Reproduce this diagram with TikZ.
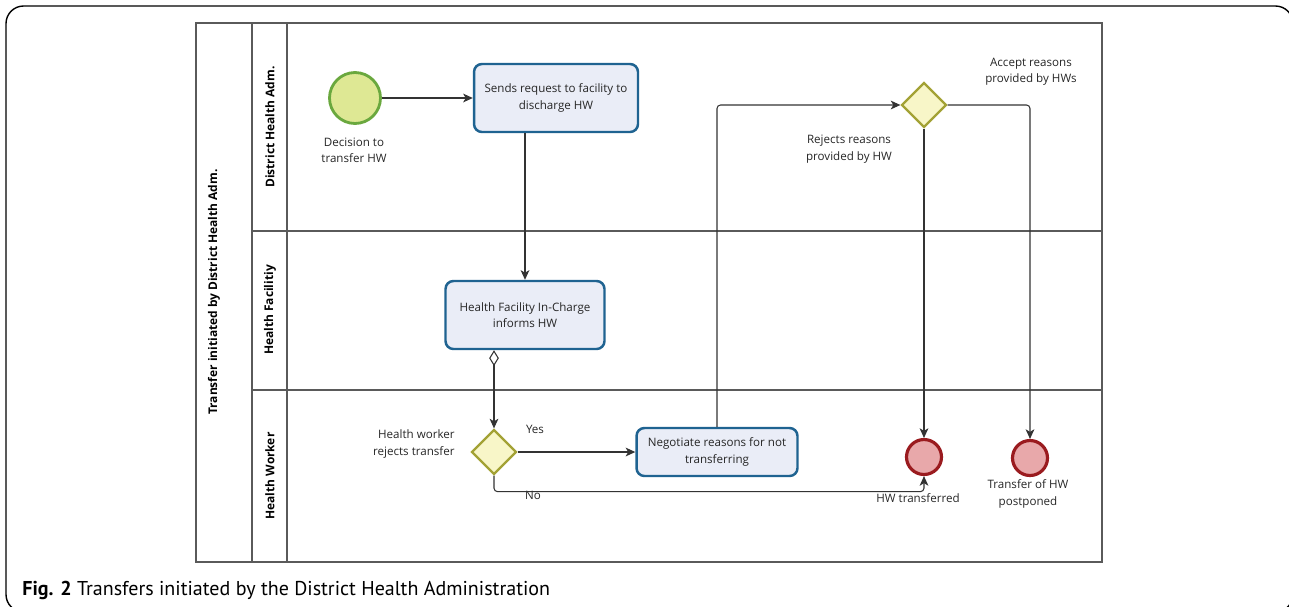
\documentclass[tikz,border=0pt]{standalone}
\usepackage{fontspec}
\setmainfont{Open Sans}
\newfontfamily\capfont{PT Sans}
\usetikzlibrary{shapes.geometric,arrows.meta,positioning}
\definecolor{startfill}{HTML}{DEE894}
\definecolor{startline}{HTML}{6AA83E}
\definecolor{taskfill}{HTML}{EAEDF7}
\definecolor{taskline}{HTML}{1F6391}
\definecolor{gatefill}{HTML}{F8F6C8}
\definecolor{gateline}{HTML}{A3A235}
\definecolor{endfill}{HTML}{E8A8AA}
\definecolor{endline}{HTML}{9A1B1F}
\definecolor{laneline}{HTML}{5A5A5A}
\definecolor{flowline}{HTML}{333333}
\tikzset{
  txt/.style={font=\fontsize{6.6}{9.3}\selectfont, text=black!85, align=center, inner sep=0pt},
  lanetxt/.style={font=\fontsize{6.8}{8}\selectfont\bfseries, rotate=90, inner sep=0pt},
  task/.style={draw=taskline, fill=taskfill, line width=1.4pt, rounded corners=4.5pt, txt},
  startev/.style={circle, draw=startline, fill=startfill, line width=1.6pt, minimum size=1.02cm, inner sep=0pt},
  endev/.style={circle, draw=endline, fill=endfill, line width=1.8pt, minimum size=0.7cm, inner sep=0pt},
  gate/.style={diamond, draw=gateline, fill=gatefill, line width=1.3pt, minimum size=0.9cm, inner sep=0pt},
  flow/.style={draw=flowline, line width=0.6pt, rounded corners=2pt},
}
\begin{document}
\begin{tikzpicture}[x=0.02cm, y=-0.02cm, >={Stealth[length=5.5pt,width=5pt,inset=1.5pt]}]
\useasboundingbox (0,0) rectangle (1289,606);
\draw[line width=0.8pt, rounded corners=10pt] (6,612) rectangle (1293,6);
% pool and lanes
\draw[laneline, line width=0.9pt] (196,23) rectangle (1102,562);
\draw[laneline, line width=0.9pt] (252,23) -- (252,562) (287,23) -- (287,562)
  (252,231) -- (1102,231) (252,390) -- (1102,390);
\node[lanetxt] (pool) at (214,292) {Transfer initiated by District Health Adm.};
\node[lanetxt] (ldha) at (270,127) {District Health Adm.};
\node[lanetxt] (lhf) at (270,310) {Health Facilitiy};
\node[lanetxt] (lhw) at (270,476) {Health Worker};
% events, tasks and gateways
\node[startev] (s) at (355,98) {};
\node[txt] (sl) at (354,150) {Decision to\\transfer HW};
\node[task, minimum width=3.28cm, minimum height=1.36cm] (t1) at (556,98)
  {Sends request to facility to\\discharge HW};
\node[task, minimum width=3.18cm, minimum height=1.36cm] (t2) at (525,315)
  {Health Facility In-Charge\\informs HW};
\node[gate] (g1) at (494,452) {};
\node[txt, align=right, anchor=east] (g1l) at (455,444) {Health worker\\rejects transfer};
\node[txt] (yes) at (535,429) {Yes};
\node[txt] (no) at (533,495) {No};
\node[task, minimum width=3.22cm, minimum height=0.96cm] (t3) at (717,452)
  {Negotiate reasons for not\\transferring};
\node[gate] (g2) at (924,105) {};
\node[txt] (g2r) at (849,149) {Rejects reasons\\provided by HW};
\node[txt] (g2a) at (1031,72) {Accept reasons\\provided by HWs};
\node[endev] (e1) at (924,457) {};
\node[txt] (e1l) at (918,498) {HW transferred};
\node[endev] (e2) at (1030,458) {};
\node[txt] (e2l) at (1028,494) {Transfer of HW\\postponed};
% flows
\draw[flow,->] (s) -- (t1);
\draw[flow,->] (t1.south -| t2.north) -- (t2.north);
\draw[flow,{Diamond[open,length=9pt,width=5.5pt]}->] (g1.north |- t2.south) -- (g1.north);
\draw[flow,->] (g1) -- (t3);
\draw[flow,->] (g1.south) -- ++(0,16) -| (e1.south);
\draw[flow,->] (t3.north) |- (g2.west);
\draw[flow,->] (g2.south) -- (e1.north);
\draw[flow,->] (g2.east) -| (e2.north);
% caption
\node[anchor=base west, inner sep=0pt, font=\capfont\fontsize{11.4}{13}\selectfont] (cap) at (22,595)
  {\textbf{Fig. 2} Transfers initiated by the District Health Administration};
\end{tikzpicture}
\end{document}
